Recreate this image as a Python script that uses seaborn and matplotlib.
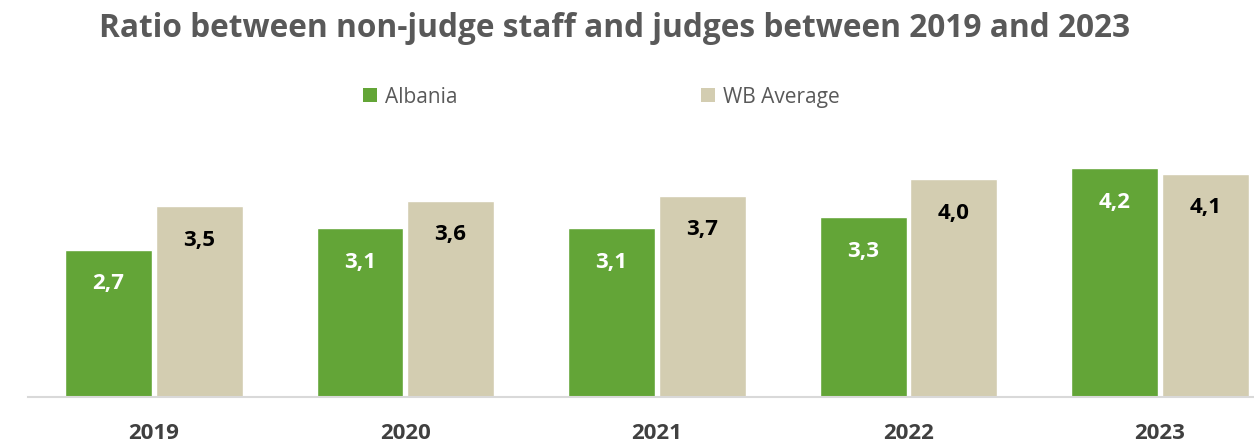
import matplotlib
matplotlib.use("Agg")
import matplotlib.pyplot as plt
import seaborn as sns
import pandas as pd
from matplotlib.patches import Patch

years = ["2019", "2020", "2021", "2022", "2023"]
albania = [2.7, 3.1, 3.1, 3.3, 4.2]
wb_average = [3.5, 3.6, 3.7, 4.0, 4.1]
series_names = ["Albania", "WB Average"]
colors = ["#63A537", "#D3CDB1"]
label_colors = ["white", "black"]

df = pd.DataFrame({
    "year": years * 2,
    "value": albania + wb_average,
    "series": [series_names[0]] * len(years) + [series_names[1]] * len(years),
})

sns.set_theme(style="white")
plt.rcParams["font.family"] = ["Open Sans", "DejaVu Sans"]

fig = plt.figure(figsize=(12.54, 4.46), dpi=100)
ax = fig.add_axes([28 / 1254, 49 / 446, 1 - 28 / 1254, 257 / 446])

sns.barplot(data=df, x="year", y="value", hue="series", order=years,
            hue_order=series_names, palette=colors, width=0.72, gap=0.04,
            saturation=1, legend=False, ax=ax)

ax.set_xlim(-0.5, 4.374)
ax.set_ylim(0, 4.72)
for s in ["top", "right", "left"]:
    ax.spines[s].set_visible(False)
ax.spines["bottom"].set_color("#D9D9D9")
ax.spines["bottom"].set_linewidth(1.5)
ax.set_yticks([])
ax.set_xlabel("")
ax.set_ylabel("")
ax.tick_params(axis="x", length=0, pad=19)
for t in ax.get_xticklabels():
    t.set_fontsize(16)
    t.set_fontweight("bold")
    t.set_color("#404040")

for cont, lc in zip(ax.containers, label_colors):
    labels = [f"{v:.1f}".replace(".", ",") for v in cont.datavalues]
    ax.bar_label(cont, labels=labels, padding=-32, color=lc,
                 fontsize=16, fontweight="bold")

fig.text(0.490, 0.937, "Ratio between non-judge staff and judges between 2019 and 2023",
         ha="center", va="center", fontsize=22.8, fontweight="bold", color="#595959")

handles = [Patch(facecolor=c, edgecolor="none") for c in colors]
fig.legend(handles, series_names, loc="center", bbox_to_anchor=(0.4797, 0.782),
           ncol=2, frameon=False, fontsize=15, labelcolor="#595959",
           handlelength=0.65, handleheight=0.65, handletextpad=0.4,
           columnspacing=11.7)

fig.savefig("out.png", dpi=100)
